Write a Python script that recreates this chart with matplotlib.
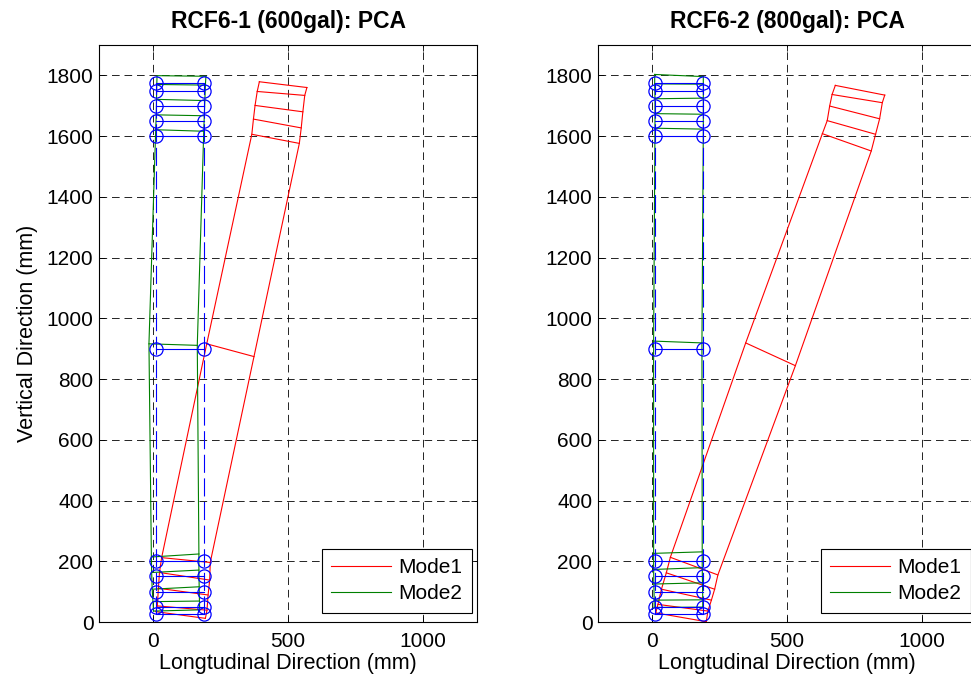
import matplotlib
matplotlib.use("Agg")
import matplotlib.pyplot as plt

plt.rcParams['font.family'] = ['Liberation Sans', 'DejaVu Sans']
plt.rcParams['lines.scale_dashes'] = False

# sensor levels (mm) and undeformed column edges (mm)
levels = [25, 50, 100, 150, 200, 900, 1600, 1650, 1700, 1750, 1775]
base_left = 10
base_right = 190

# RCF6-1 (600gal) scaled mode shapes: left / right edge points at each level
r1_m1_xl = [11, 16, 20, 24, 32, 199, 366, 372, 378, 386, 394]
r1_m1_yl = [34, 53, 111, 163, 212, 916, 1606, 1656, 1701, 1747, 1779]
r1_m1_xr = [194, 200, 204, 210, 212, 374, 542, 549, 555, 562, 570]
r1_m1_yr = [12, 39, 89, 138, 196, 874, 1576, 1627, 1680, 1734, 1760]

r1_m2_xl = [2, 0, -3, -5, -6, -15, 10, 12, 13, 14, 15]
r1_m2_yl = [36, 67, 108, 163, 214, 916, 1621, 1670, 1721, 1770, 1799]
r1_m2_xr = [173, 172, 171, 170, 170, 164, 188, 190, 192, 194, 196]
r1_m2_yr = [40, 69, 116, 171, 224, 911, 1616, 1667, 1717, 1768, 1797]

# RCF6-2 (800gal)
r2_m1_xl = [14, 22, 35, 53, 68, 347, 631, 649, 658, 667, 679]
r2_m1_yl = [30, 58, 108, 162, 213, 919, 1608, 1651, 1699, 1737, 1767]
r2_m1_xr = [201, 207, 220, 232, 244, 531, 812, 828, 843, 853, 862]
r2_m1_yr = [1, 36, 72, 108, 155, 844, 1551, 1606, 1657, 1710, 1735]

r2_m2_xl = [8, 8, 7, 6, 6, 6, 11, 11, 11, 10, 10]
r2_m2_yl = [48, 72, 125, 173, 226, 925, 1626, 1674, 1723, 1772, 1803]
r2_m2_xr = [188, 188, 187, 186, 186, 185, 190, 190, 190, 190, 190]
r2_m2_yr = [49, 73, 129, 179, 231, 919, 1623, 1672, 1725, 1771, 1796]

titles = ['RCF6-1 (600gal): PCA', 'RCF6-2 (800gal): PCA']
xticks = [0, 500, 1000]
yticks = list(range(0, 1801, 200))

RED = (1, 0, 0)
GREEN = (0, 0.5, 0)
BLUE = (0, 0, 1)
LW = 0.8


def draw_shape(ax, xl, yl, xr, yr, color, label):
    # both edges of the deformed column plus the cross bars between them
    ax.plot(xl, yl, color=color, lw=LW, label=label)
    ax.plot(xr, yr, color=color, lw=LW)
    for i in range(len(xl)):
        ax.plot([xl[i], xr[i]], [yl[i], yr[i]], color=color, lw=LW)


def draw_column(ax):
    n = len(levels)
    dash = (0, (13, 4))
    ax.plot([base_left] * n, levels, color=BLUE, lw=LW, linestyle=dash)
    ax.plot([base_right] * n, levels, color=BLUE, lw=LW, linestyle=dash)
    for y in levels:
        ax.plot([base_left, base_right], [y, y], color=BLUE, lw=LW)
    ax.plot([base_left] * n + [base_right] * n, levels + levels, 'o',
            ms=9.5, mfc='none', mec=BLUE, mew=0.9, linestyle='none')


fig = plt.figure(figsize=(9.71, 6.84), dpi=100)
ax1 = fig.add_axes([99 / 971, 62 / 684, 378 / 971, 577 / 684])
ax2 = fig.add_axes([598 / 971, 62 / 684, 378 / 971, 577 / 684])

shapes = [
    (r1_m1_xl, r1_m1_yl, r1_m1_xr, r1_m1_yr, r1_m2_xl, r1_m2_yl, r1_m2_xr, r1_m2_yr),
    (r2_m1_xl, r2_m1_yl, r2_m1_xr, r2_m1_yr, r2_m2_xl, r2_m2_yl, r2_m2_xr, r2_m2_yr),
]

for ax, title, s in zip([ax1, ax2], titles, shapes):
    draw_shape(ax, s[0], s[1], s[2], s[3], RED, 'Mode1')
    draw_shape(ax, s[4], s[5], s[6], s[7], GREEN, 'Mode2')
    draw_column(ax)

    ax.set_xlim(-200, 1200)
    ax.set_ylim(0, 1900)
    ax.set_xticks(xticks)
    ax.set_yticks(yticks)
    ax.grid(True, color='k', linestyle=(0, (5.5, 3.5)), linewidth=0.6)
    ax.set_axisbelow(True)
    ax.tick_params(direction='in', top=True, right=True, labelsize=15,
                   length=4, width=0.6)
    ax.tick_params(axis='x', pad=7)
    ax.tick_params(axis='y', pad=4)
    for sp in ax.spines.values():
        sp.set_linewidth(0.8)
    ax.set_title(title, fontsize=16.5, fontweight='bold', pad=12)
    ax.set_xlabel('Longtudinal Direction (mm)', fontsize=15.5, labelpad=2)
    leg = ax.legend(loc='lower right', bbox_to_anchor=(0.987, 0.016),
                    borderaxespad=0, fontsize=15, fancybox=False,
                    edgecolor='k', framealpha=1, handlelength=2.9,
                    handletextpad=0.35, labelspacing=0.35, borderpad=0.45)
    leg.get_frame().set_linewidth(0.8)

ax1.set_ylabel('Vertical Direction (mm)', fontsize=15.5, labelpad=6)

fig.savefig('out.png', dpi=100)
